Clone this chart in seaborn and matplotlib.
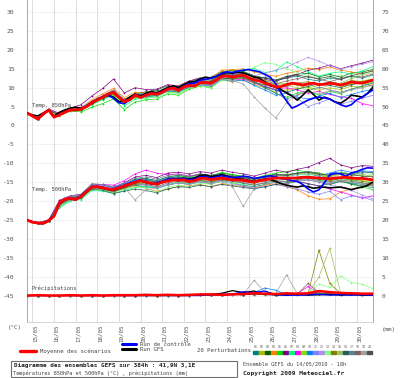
import numpy as np
import pandas as pd
import matplotlib
matplotlib.use("Agg")
import matplotlib.pyplot as plt
import matplotlib.patches as mpatches
import matplotlib.transforms as mtrans
import seaborn as sns

sns.set_style("white")
plt.rcParams['font.family'] = ['DejaVu Sans Mono', 'DejaVu Sans']

# ---------------- data ----------------
DATES = ['15/05', '16/05', '17/05', '18/05', '19/05', '20/05', '21/05', '22/05',
         '23/05', '24/05', '25/05', '26/05', '27/05', '28/05', '29/05', '30/05']
LEFT_TICKS = [30, 25, 20, 15, 10, 5, 0, -5, -10, -15, -20, -25, -30, -35, -40, -45]
RIGHT_LABELS = ['75', '70', '65', '60', '55', '50', '45', '40', '35', '30', '25', '20',
                '15', '10', '5', '0']

H6 = np.arange(0, 385, 6)     # run hours, 6-hourly (main runs)
H12 = np.arange(0, 385, 12)   # run hours, 12-hourly (perturbations)

MEAN_850 = [3.3, 2.5, 1.7, 3.0, 4.1, 2.2, 2.8, 3.5, 4.1, 4.1, 4.3, 5.0, 6.0, 6.8, 7.5, 8.3,
            8.8, 7.5, 6.3, 6.8, 8.0, 7.4, 8.0, 8.5, 8.3, 8.8, 9.6, 9.9, 9.3, 10.2, 10.6, 10.4,
            11.3, 11.4, 11.2, 12.0, 13.0, 13.1, 12.8, 13.1, 13.3, 12.6, 12.0, 11.8, 11.2, 10.8,
            10.2, 10.3, 10.8, 11.2, 11.0, 10.7, 11.0, 11.2, 10.8, 10.9, 11.2, 11.0, 10.7, 11.0,
            11.5, 11.3, 11.2, 11.6, 12.0]
CTRL_850 = [3.3, 2.5, 1.8, 3.0, 4.0, 2.3, 2.9, 3.6, 4.1, 4.2, 4.4, 5.2, 6.2, 7.0, 7.6, 8.0,
            7.2, 6.0, 5.8, 6.8, 7.9, 7.5, 8.2, 8.6, 8.4, 9.0, 9.8, 10.0, 9.5, 10.4, 11.0, 11.2,
            12.0, 12.2, 12.5, 13.0, 13.8, 14.2, 14.0, 14.4, 14.6, 14.8, 14.5, 14.2, 13.5, 12.8,
            11.0, 8.6, 6.5, 4.6, 5.2, 6.0, 6.7, 7.2, 7.5, 7.3, 7.0, 6.2, 5.5, 5.0, 5.5, 6.8,
            7.5, 8.5, 9.4]
GFS_850 = [3.3, 2.8, 2.5, 3.3, 4.1, 2.5, 3.5, 4.1, 4.6, 4.8, 4.6, 5.0, 6.0, 6.8, 7.5, 8.0,
           7.5, 6.3, 6.5, 7.5, 8.3, 7.8, 8.5, 9.0, 8.6, 9.3, 10.0, 10.5, 10.0, 10.8, 11.5, 11.6,
           12.3, 12.8, 12.5, 13.0, 13.6, 14.0, 13.8, 14.1, 13.9, 13.4, 12.8, 12.5, 11.5, 10.5,
           10.2, 9.5, 8.6, 7.8, 6.7, 8.0, 9.4, 8.2, 6.7, 7.5, 7.0, 6.2, 5.9, 6.8, 8.0, 7.8,
           7.5, 8.5, 10.2]

MEAN_500 = [-25.0, -25.6, -25.8, -25.9, -25.2, -24.0, -20.5, -19.5, -19.3, -19.6, -18.8,
            -17.5, -16.3, -16.2, -16.5, -16.8, -17.0, -16.5, -16.0, -15.5, -15.0, -14.6,
            -15.0, -15.3, -15.5, -15.0, -14.7, -14.4, -14.5, -14.4, -14.8, -14.6, -14.0,
            -14.0, -14.3, -14.1, -13.9, -14.2, -14.4, -14.4, -14.5, -14.8, -15.0, -14.6,
            -14.4, -14.1, -13.9, -13.9, -14.0, -13.9, -13.9, -13.7, -13.7, -13.8, -13.9,
            -14.0, -14.1, -13.9, -13.8, -13.7, -13.9, -14.0, -14.0, -14.2, -14.4]
CTRL_500 = [-25.0, -25.5, -25.7, -25.8, -25.0, -23.8, -20.5, -19.4, -19.2, -19.4, -18.6,
            -17.3, -16.2, -16.1, -16.4, -16.8, -16.9, -16.3, -15.8, -15.2, -14.8,
            -14.4, -14.9, -15.4, -15.2, -14.8, -14.3, -14.0, -14.3, -14.0, -14.4,
            -14.2, -13.6, -13.5, -13.9, -13.6, -13.3, -13.6, -13.8, -13.7, -13.4,
            -13.6, -14.0, -13.8, -13.5, -13.3, -13.6, -14.0, -14.2, -14.6, -14.8,
            -15.6, -16.8, -17.6, -17.0, -15.2, -13.0, -12.6, -12.8, -13.4, -12.6, -12.2,
            -11.6, -11.2, -11.3]
GFS_500 = [-25.0, -25.6, -25.9, -26.0, -25.3, -24.0, -20.8, -19.6, -19.4, -19.7, -18.9,
           -17.6, -16.4, -16.3, -16.6, -17.0, -17.2, -16.7, -16.2, -15.6, -15.1,
           -14.7, -15.1, -15.5, -15.6, -15.0, -14.5, -14.2, -14.2, -13.9, -14.2,
           -13.9, -13.2, -13.1, -13.5, -13.3, -13.0, -13.4, -13.8, -14.0, -14.3,
           -14.5, -14.8, -14.5, -14.2, -14.3, -14.8, -15.4, -15.8, -16.1, -16.3,
           -16.0, -16.2, -16.6, -16.4, -16.3, -16.5, -16.4, -16.3, -16.6, -17.0, -16.6,
           -16.3, -15.8, -15.0]

PERT_850 = [
    [3.3, 1.7, 4.2, 2.9, 4.0, 4.6, 6.4, 7.9, 9.4, 6.9, 8.3, 8.6, 8.9, 10.1, 9.8, 11.2, 12.0, 11.4, 13.5, 13.9, 14.0, 12.6, 12.8, 11.9, 12.5, 13.1, 12.2, 11.8, 12.6, 12.2, 13.0, 12.5, 13.4],
    [3.4, 1.6, 4.0, 2.7, 4.2, 4.0, 5.6, 7.0, 8.1, 5.8, 7.4, 7.6, 7.8, 9.0, 8.6, 10.0, 10.5, 10.2, 12.0, 11.6, 12.1, 10.8, 9.9, 8.8, 9.5, 9.8, 10.1, 9.3, 10.0, 9.5, 10.4, 10.0, 10.9],
    [3.2, 1.8, 4.1, 2.8, 4.0, 4.4, 6.2, 7.8, 9.2, 6.6, 8.5, 8.9, 9.4, 10.5, 10.2, 11.6, 12.4, 12.8, 14.2, 14.6, 14.3, 13.2, 12.5, 12.0, 13.0, 13.6, 13.8, 12.9, 13.5, 12.8, 13.9, 14.2, 14.8],
    [3.3, 1.7, 4.1, 2.9, 4.3, 4.7, 6.8, 8.4, 9.8, 7.4, 8.8, 8.5, 8.6, 9.8, 9.5, 11.0, 11.8, 12.5, 14.6, 14.8, 15.0, 14.2, 13.6, 13.0, 13.8, 14.3, 15.2, 14.8, 15.5, 14.6, 14.2, 13.5, 14.6],
    [3.3, 1.6, 3.9, 2.6, 3.8, 3.6, 4.8, 5.8, 7.0, 4.2, 6.2, 6.8, 7.0, 8.4, 8.0, 9.6, 10.4, 10.0, 12.2, 12.6, 12.5, 11.5, 10.0, 8.5, 7.5, 8.6, 9.2, 8.0, 9.0, 8.4, 9.6, 10.5, 11.5],
    [3.4, 1.9, 4.4, 3.2, 4.6, 5.5, 7.8, 9.8, 12.3, 8.6, 10.0, 9.5, 9.6, 10.8, 10.5, 11.8, 12.6, 12.0, 13.8, 13.2, 13.6, 12.8, 12.2, 11.6, 12.8, 13.5, 14.6, 15.2, 16.0, 15.0, 15.8, 16.5, 17.3],
    [3.2, 1.6, 4.0, 2.7, 3.9, 4.0, 5.5, 6.8, 7.9, 5.2, 7.0, 7.2, 7.6, 9.0, 8.8, 10.2, 11.0, 11.6, 13.6, 14.2, 14.8, 15.1, 14.0, 14.5, 16.8, 15.6, 14.2, 13.1, 13.8, 14.2, 13.6, 14.4, 15.6],
    [3.3, 1.8, 4.2, 2.8, 4.1, 4.5, 6.3, 7.7, 9.0, 6.5, 8.2, 8.1, 8.3, 9.5, 9.2, 10.4, 11.0, 10.6, 12.4, 12.0, 12.3, 11.2, 10.3, 9.6, 10.0, 9.4, 8.6, 9.0, 8.2, 7.6, 7.2, 5.8, 5.2],
    [3.3, 1.7, 4.0, 2.8, 4.1, 4.2, 5.8, 7.2, 8.4, 5.9, 7.6, 7.9, 8.4, 9.9, 9.7, 11.0, 12.1, 12.0, 13.4, 13.0, 13.8, 12.4, 11.6, 10.8, 11.2, 10.6, 10.0, 10.6, 11.4, 10.2, 11.0, 11.8, 12.3],
    [3.3, 1.7, 4.1, 2.8, 4.0, 4.3, 5.9, 7.3, 8.6, 6.1, 7.8, 7.6, 7.9, 9.2, 8.9, 10.1, 10.8, 10.4, 12.2, 11.7, 12.0, 10.6, 9.4, 8.0, 8.6, 7.5, 7.0, 7.8, 8.5, 7.4, 8.2, 9.0, 9.6],
    [3.3, 1.7, 4.1, 2.8, 4.1, 4.4, 6.1, 7.6, 8.9, 6.4, 8.1, 8.2, 8.5, 9.8, 9.6, 10.9, 11.6, 11.4, 13.0, 12.9, 13.1, 11.6, 10.6, 9.2, 9.0, 7.2, 5.0, 6.0, 7.0, 5.6, 6.4, 7.2, 8.0],
    [3.3, 1.8, 4.2, 2.9, 4.2, 4.6, 6.3, 7.9, 9.3, 6.8, 8.4, 8.3, 8.6, 9.9, 9.6, 11.1, 11.9, 11.6, 13.4, 13.6, 14.0, 13.2, 13.8, 14.6, 15.4, 16.8, 18.0, 17.0, 15.8, 14.9, 15.6, 16.2, 16.9],
    [3.3, 1.7, 4.1, 2.8, 4.1, 4.3, 6.0, 7.4, 8.6, 6.0, 7.6, 7.4, 7.5, 8.8, 8.4, 9.8, 10.5, 10.0, 12.0, 12.2, 13.0, 15.4, 16.6, 16.2, 15.0, 14.0, 13.2, 12.4, 12.8, 13.4, 12.6, 13.6, 14.4],
    [3.3, 1.6, 4.0, 2.7, 4.0, 4.1, 5.7, 7.1, 8.3, 5.9, 7.7, 7.8, 8.1, 9.4, 9.1, 10.4, 11.2, 11.0, 12.6, 12.2, 12.6, 11.3, 10.8, 10.0, 10.4, 11.2, 11.6, 10.9, 11.6, 11.0, 11.9, 11.6, 12.2],
    [3.3, 1.7, 4.1, 2.8, 4.1, 4.3, 6.1, 7.6, 8.9, 6.2, 8.0, 8.1, 8.3, 9.7, 9.4, 10.7, 11.4, 11.3, 13.1, 13.0, 13.6, 12.8, 12.0, 11.4, 10.6, 10.0, 9.4, 9.8, 10.6, 11.2, 12.4, 13.2, 14.0],
    [3.3, 1.7, 4.1, 2.8, 4.1, 4.2, 5.9, 7.4, 8.7, 6.2, 7.9, 7.8, 8.0, 9.3, 9.0, 10.2, 10.9, 10.8, 12.5, 12.4, 12.8, 11.6, 10.2, 9.4, 8.8, 9.6, 10.4, 11.0, 10.6, 10.0, 10.8, 11.3, 10.4],
    [3.3, 1.7, 4.1, 2.8, 4.1, 4.4, 6.2, 7.7, 9.0, 6.5, 8.2, 8.3, 8.6, 9.9, 9.7, 11.0, 11.8, 11.8, 13.6, 13.4, 13.0, 11.6, 10.0, 8.6, 7.0, 8.0, 9.2, 10.2, 9.4, 8.8, 9.6, 10.4, 11.2],
    [3.3, 1.7, 4.1, 2.8, 4.1, 4.3, 6.0, 7.5, 8.8, 6.3, 8.0, 8.0, 8.2, 9.5, 9.1, 10.5, 11.2, 11.1, 12.9, 12.6, 13.2, 12.4, 11.8, 11.0, 11.8, 12.4, 13.0, 12.2, 11.6, 12.4, 13.2, 12.8, 13.6],
    [3.3, 1.7, 4.1, 2.8, 4.1, 4.3, 6.0, 7.5, 8.7, 6.2, 8.0, 7.9, 8.1, 9.4, 9.0, 10.3, 11.0, 10.6, 12.4, 11.8, 11.0, 7.6, 4.6, 2.0, 6.0, 8.2, 9.0, 8.4, 9.2, 8.6, 9.4, 10.0, 10.6],
    [3.3, 1.7, 4.1, 2.8, 4.1, 4.3, 6.0, 7.4, 8.6, 6.2, 8.0, 8.1, 8.4, 9.8, 9.5, 10.9, 11.6, 11.7, 13.4, 13.3, 14.0, 13.0, 12.6, 12.0, 12.6, 13.4, 12.8, 12.4, 13.0, 12.2, 13.2, 13.8, 14.4],
]

PERT_500 = [
    [-25.0, -25.9, -25.4, -20.8, -19.0, -18.5, -16.0, -16.2, -17.4, -16.6, -15.8, -16.2, -16.6, -15.8, -15.2, -15.6, -14.8, -15.4, -14.6, -15.2, -15.8, -16.2, -15.6, -15.0, -15.4, -14.8, -14.4, -15.0, -15.6, -14.8, -15.2, -15.6, -16.0],
    [-25.0, -25.8, -25.1, -21.0, -19.6, -19.2, -16.8, -16.9, -17.2, -16.2, -14.6, -14.4, -15.0, -14.2, -13.8, -14.0, -13.4, -13.8, -13.2, -13.6, -14.0, -14.4, -13.6, -12.8, -13.2, -12.6, -12.4, -13.0, -13.4, -12.8, -13.0, -13.4, -13.6],
    [-25.0, -25.7, -25.2, -20.2, -19.2, -18.8, -16.2, -16.4, -16.8, -15.8, -14.2, -14.0, -14.6, -13.6, -13.2, -13.6, -12.8, -13.2, -12.6, -13.0, -13.6, -14.2, -13.8, -13.2, -13.0, -12.6, -12.2, -12.6, -13.2, -12.4, -12.8, -12.2, -12.6],
    [-25.0, -25.9, -25.3, -21.2, -19.6, -19.0, -16.6, -16.8, -17.6, -16.8, -16.0, -16.6, -17.4, -16.8, -16.2, -16.0, -15.6, -16.2, -15.4, -15.8, -16.2, -16.6, -15.8, -15.4, -16.2, -17.0, -18.6, -19.5, -19.4, -17.6, -16.8, -16.2, -15.8],
    [-25.0, -25.8, -25.2, -21.6, -19.8, -19.0, -16.4, -16.6, -17.2, -16.4, -15.2, -14.6, -15.2, -14.0, -13.4, -13.8, -13.0, -13.4, -12.4, -13.0, -13.4, -14.0, -13.2, -12.6, -12.2, -11.8, -12.4, -13.2, -13.8, -14.6, -15.6, -16.2, -17.0],
    [-25.0, -25.7, -25.0, -19.8, -18.6, -18.2, -15.6, -15.8, -16.4, -15.2, -13.6, -13.2, -13.8, -12.6, -12.4, -12.8, -12.2, -12.6, -11.8, -12.4, -12.8, -13.4, -12.6, -11.8, -12.4, -11.6, -11.0, -9.8, -8.7, -10.4, -11.2, -10.6, -10.8],
    [-25.0, -25.9, -25.3, -21.8, -20.0, -19.6, -17.2, -17.4, -18.0, -17.2, -16.4, -16.0, -16.6, -15.6, -15.0, -15.4, -14.6, -15.0, -14.2, -14.8, -15.4, -15.8, -15.2, -14.6, -14.8, -14.2, -13.8, -14.4, -14.8, -14.0, -14.6, -15.2, -15.6],
    [-25.0, -25.7, -25.1, -20.4, -19.0, -18.4, -15.8, -15.6, -15.8, -14.6, -12.8, -11.8, -12.6, -13.0, -12.8, -13.4, -13.0, -13.6, -13.2, -13.8, -14.4, -14.8, -14.0, -13.6, -14.2, -14.8, -15.4, -16.0, -16.8, -17.6, -18.4, -19.2, -18.6],
    [-25.0, -25.8, -25.2, -21.0, -19.4, -18.9, -16.4, -16.6, -17.2, -16.2, -15.4, -15.0, -15.4, -14.4, -14.0, -14.2, -13.6, -14.0, -13.4, -13.8, -14.4, -15.0, -14.4, -13.8, -14.2, -13.6, -13.4, -14.0, -14.4, -13.8, -14.2, -14.6, -15.0],
    [-25.0, -25.8, -25.2, -20.6, -19.2, -18.6, -15.8, -16.0, -16.6, -15.4, -14.4, -14.2, -14.8, -13.8, -13.6, -14.0, -13.4, -13.8, -13.2, -13.8, -14.2, -14.6, -14.0, -13.2, -13.4, -13.0, -12.8, -13.4, -12.6, -11.8, -12.4, -12.0, -12.2],
    [-25.0, -25.8, -25.3, -21.2, -19.4, -18.8, -16.2, -16.6, -17.4, -16.6, -15.6, -15.8, -16.4, -15.6, -15.2, -15.6, -15.0, -15.4, -14.8, -15.4, -16.0, -16.6, -16.2, -15.6, -16.2, -16.8, -17.6, -18.2, -17.4, -19.6, -18.6, -19.0, -19.8],
    [-25.0, -25.7, -25.1, -20.4, -18.8, -18.4, -15.6, -16.0, -16.8, -15.6, -14.8, -14.6, -15.2, -14.4, -14.2, -14.6, -14.0, -14.6, -14.0, -14.6, -15.0, -15.6, -15.0, -14.4, -15.0, -14.6, -14.2, -15.0, -15.6, -16.4, -17.2, -18.4, -19.4],
    [-25.0, -25.8, -25.2, -21.4, -19.8, -19.2, -16.8, -17.0, -17.8, -16.8, -16.2, -16.6, -17.6, -16.4, -15.8, -16.2, -15.2, -15.6, -14.8, -15.2, -15.6, -15.4, -14.6, -13.8, -13.6, -12.8, -13.2, -12.6, -13.0, -12.4, -12.8, -13.2, -13.0],
    [-25.0, -25.9, -25.3, -20.8, -19.4, -19.0, -16.6, -16.8, -17.6, -16.6, -15.6, -15.2, -15.8, -14.8, -14.6, -15.0, -14.4, -14.8, -14.2, -14.6, -14.8, -15.2, -14.6, -14.0, -14.4, -13.8, -13.6, -14.2, -14.6, -14.0, -14.4, -14.8, -15.2],
    [-25.0, -25.8, -25.2, -20.6, -19.0, -18.6, -16.2, -16.4, -17.0, -16.0, -15.0, -14.8, -15.4, -14.6, -14.2, -14.6, -14.0, -14.2, -13.6, -14.0, -14.2, -14.6, -13.8, -13.2, -13.4, -12.8, -12.6, -13.2, -13.6, -13.0, -13.4, -13.0, -13.4],
    [-25.0, -25.9, -25.3, -21.0, -19.6, -19.2, -16.8, -17.2, -18.0, -17.4, -16.8, -17.2, -17.8, -16.8, -16.2, -16.4, -15.8, -16.2, -15.6, -16.0, -16.4, -16.8, -16.2, -15.6, -15.2, -14.8, -15.4, -16.0, -15.4, -14.8, -15.4, -16.0, -16.4],
    [-25.0, -25.8, -25.2, -20.2, -18.8, -18.2, -15.4, -15.6, -16.2, -15.2, -14.0, -13.6, -14.2, -13.2, -13.0, -13.4, -12.8, -13.2, -12.8, -13.4, -13.8, -14.2, -13.6, -12.8, -13.2, -12.6, -12.2, -12.8, -13.2, -12.6, -13.0, -12.6, -12.4],
    [-25.0, -25.8, -25.2, -21.0, -19.4, -18.8, -16.4, -16.6, -17.2, -16.2, -15.4, -15.6, -16.2, -15.2, -14.8, -15.2, -14.6, -15.0, -14.4, -14.8, -15.2, -15.8, -15.2, -14.6, -15.0, -14.4, -14.0, -14.6, -15.0, -14.4, -14.8, -15.2, -15.6],
    [-25.0, -25.8, -25.3, -21.2, -19.6, -19.0, -16.6, -16.8, -17.4, -16.4, -19.7, -17.0, -16.6, -15.8, -15.2, -15.6, -14.8, -15.4, -14.8, -16.2, -21.4, -16.8, -15.6, -15.0, -15.4, -14.8, -14.4, -14.8, -15.2, -14.6, -15.0, -15.4, -15.8],
    [-25.0, -25.8, -25.2, -20.6, -19.2, -18.6, -16.0, -16.4, -17.0, -16.0, -14.8, -14.4, -15.0, -14.0, -13.8, -14.2, -13.4, -13.8, -13.0, -13.4, -13.8, -14.2, -13.6, -13.0, -13.2, -12.6, -12.4, -12.8, -13.2, -12.6, -13.0, -13.4, -13.6],
]

# precipitation (mm), 12-hourly
PRECIP_MEAN = [0.0, 0.1, 0.0, 0.0, 0.1, 0.0, 0.1, 0.0, 0.1, 0.1, 0.1, 0.2, 0.1, 0.2, 0.1, 0.2, 0.3,
               0.3, 0.2, 0.3, 0.4, 0.6, 0.5, 0.4, 0.6, 0.5, 0.6, 1.2, 0.9, 0.7, 0.6, 0.5, 0.5]
PRECIP_CTRL = [0, 0, 0, 0, 0, 0, 0, 0, 0, 0, 0, 0, 0, 0, 0, 0, 0, 0.2, 0.3, 0.4, 1.0, 0.8, 1.2,
               0.2, 0.1, 0.1, 0.2, 0.3, 0.1, 0.2, 0.1, 0.2, 0.1]
PRECIP_GFS = [0, 0, 0, 0, 0, 0, 0, 0, 0, 0, 0, 0, 0, 0, 0, 0, 0.2, 0.3, 0.6, 1.3, 0.8, 1.2, 0.3,
              0.2, 0.1, 0.2, 0.1, 0.2, 0.3, 0.1, 0.2, 0.1, 0.1]
PRECIP_LIGHT = [0, 0, 0, 0, 0.1, 0, 0, 0, 0.1, 0, 0, 0.2, 0, 0.1, 0, 0.2, 0.3, 0.2, 0.1, 0.3,
                0.2, 0.4, 0.3, 0.2, 0.4, 0.3, 0.4, 0.5, 0.4, 0.3, 0.4, 0.3, 0.3]
PRECIP_WET = {
    8: [0, 0, 0, 0, 0, 0, 0, 0, 0, 0, 0, 0, 0, 0, 0, 0, 0.1, 0.2, 0.1, 0.3, 0.2, 0.3, 0.2, 0.2,
        0.3, 0.5, 2.4, 0.6, 0.4, 0.3, 0.3, 0.2, 0.2],
    10: [0, 0, 0, 0, 0, 0, 0, 0, 0, 0, 0, 0, 0, 0, 0, 0, 0.1, 0.2, 0.3, 0.4, 0.5, 0.8, 2.0, 1.4,
         0.3, 0.2, 0.3, 0.4, 0.3, 0.2, 0.3, 0.2, 0.2],
    13: [0, 0, 0, 0, 0, 0, 0, 0, 0, 0, 0, 0, 0, 0, 0, 0, 0.1, 0.1, 0.2, 0.2, 0.3, 0.3, 0.2, 0.3,
         0.4, 0.3, 0.5, 3.0, 2.2, 5.2, 3.4, 3.0, 1.8],
    14: [0, 0, 0, 0, 0, 0, 0, 0, 0, 0, 0, 0, 0, 0, 0, 0, 0.1, 0.1, 0.2, 0.3, 0.2, 0.3, 0.4, 0.3,
         0.3, 0.4, 0.6, 12.0, 3.2, 0.6, 0.4, 0.3, 0.3],
    15: [0, 0, 0, 0, 0, 0, 0, 0, 0, 0, 0, 0, 0, 0, 0, 0, 0.1, 0.2, 0.2, 0.2, 0.3, 0.3, 0.2, 0.3,
         0.4, 0.3, 0.5, 5.0, 12.5, 0.8, 0.4, 0.3, 0.3],
    18: [0, 0, 0, 0, 0, 0, 0, 0, 0, 0, 0, 0, 0, 0, 0, 0, 0.1, 0.1, 0.2, 0.2, 0.3, 0.2, 0.3, 0.4,
         0.3, 0.4, 3.2, 0.8, 0.4, 0.3, 0.3, 0.2, 0.2],
    19: [0, 0, 0, 0, 0, 0, 0, 0, 0, 0, 0, 0, 0, 0, 0, 0, 0.1, 0.2, 0.3, 0.2, 0.3, 4.0, 1.0, 0.5,
         5.5, 0.5, 0.4, 0.3, 0.3, 0.2, 0.3, 0.2, 0.2],
}
PRECIP_ZERO = -45   # precipitation 0 mm sits at -45 on the temperature axis

PERT_COLORS = ['#008080', '#b8b800', '#006400', '#ff8000', '#00e000', '#800080', '#00ff80',
               '#ff00ff', '#80e000', '#0080ff', '#8080ff', '#b090f0', '#80ff80', '#808000',
               '#a0c060', '#205f5f', '#608090', '#806060', '#a0a0a0', '#505050']
PERT_IDS = ['01', '02', '03', '04', '05', '06', '07', '08', '09', '10', '11', '12', '13', '14',
            '15', '16', '17', '18', '19', '20']

# ---------------- figure ----------------
W, H = 400, 378
fig = plt.figure(figsize=(W / 100, H / 100), dpi=100)
fig.patch.set_facecolor('white')
ax = fig.add_axes([27 / W, 1 - 322 / H, 346 / W, 322 / H])
ax.set_facecolor('white')
ax.set_xlim(0, 384)
ax.set_ylim(-52.0, 33.2)

# grid
day_hours = [6 + 24 * d for d in range(len(DATES))]
for h in day_hours:
    ax.axvline(h, color='#dcdcdc', lw=0.7, zorder=0)
for v in LEFT_TICKS:
    ax.axhline(v, color='#e2e2e2', lw=0.6, ls=(0, (1.5, 1.5)), zorder=0)

for sp in ['top']:
    ax.spines[sp].set_visible(False)
for sp in ['left', 'right']:
    ax.spines[sp].set_color('#a8a8a8')
    ax.spines[sp].set_linewidth(0.7)
ax.spines['bottom'].set_color('#d0d0d0')
ax.spines['bottom'].set_linewidth(0.6)

ax.set_yticks(LEFT_TICKS)
ax.set_yticklabels([str(v) for v in LEFT_TICKS], fontsize=4.6, color='#555555')
ax.tick_params(axis='y', length=0, pad=9)
ax.set_xticks([])
ax2 = ax.twinx()
ax2.set_ylim(ax.get_ylim())
ax2.set_yticks(LEFT_TICKS)
ax2.set_yticklabels(RIGHT_LABELS, fontsize=4.6, color='#555555')
ax2.tick_params(axis='y', length=0, pad=6)
for sp in ax2.spines.values():
    sp.set_visible(False)

# perturbations
for i in range(20):
    kw = dict(color=PERT_COLORS[i], lw=0.5, marker='o', markersize=1.3,
              markeredgewidth=0, ax=ax, zorder=2, legend=False)
    sns.lineplot(x=H12, y=PERT_850[i], **kw)
    sns.lineplot(x=H12, y=PERT_500[i], **kw)
    pr = PRECIP_WET.get(i + 1, PRECIP_LIGHT)
    sns.lineplot(x=H12, y=np.array(pr) + PRECIP_ZERO, **kw)

# main runs
for series, col, z in [((GFS_850, GFS_500, PRECIP_GFS), 'black', 4),
                       ((CTRL_850, CTRL_500, PRECIP_CTRL), '#0000ff', 5)]:
    sns.lineplot(x=H6, y=series[0], color=col, lw=1.2, ax=ax, zorder=z)
    sns.lineplot(x=H6, y=series[1], color=col, lw=1.2, ax=ax, zorder=z)
    sns.lineplot(x=H12, y=np.array(series[2]) + PRECIP_ZERO, color=col, lw=0.9, ax=ax, zorder=z)

sns.lineplot(x=H6, y=MEAN_850, color='#ff0000', lw=2.0, ax=ax, zorder=6)
sns.lineplot(x=H6, y=MEAN_500, color='#ff0000', lw=2.0, ax=ax, zorder=6)
sns.lineplot(x=H12, y=np.array(PRECIP_MEAN) + PRECIP_ZERO, color='#ff0000', lw=1.8, ax=ax, zorder=6)

# in-plot labels
lab = dict(fontsize=3.9, color='#444444', zorder=7)
ax.text(5.5, 4.9, 'Temp. 850hPa', **lab)
ax.text(5.5, -17.4, 'Temp. 500hPa', **lab)
ax.text(5.5, -43.5, 'Précipitations', **lab)

# date labels under the axis
trans = mtrans.blended_transform_factory(ax.transData, fig.transFigure)
for h, d in zip(day_hours, DATES):
    ax.text(h + 3, 1 - 324 / H, d, rotation=90, ha='center', va='top',
            fontsize=4.2, color='#555555', transform=trans)


def fx(x):
    return x / W


def fy(y):
    return 1 - y / H


fig.text(fx(8), fy(328), '(°C)', fontsize=4.2, color='#555555', va='center')
fig.text(fx(382), fy(329), '(mm)', fontsize=4.2, color='#555555', va='center')

# legend
fig.add_artist(plt.Line2D([fx(20), fx(36)], [fy(351), fy(351)], color='#ff0000', lw=2.4,
                          transform=fig.transFigure))
fig.text(fx(40), fy(351), 'Moyenne des scénarios', fontsize=4.1, color='#444444', va='center')
fig.add_artist(plt.Line2D([fx(122), fx(136)], [fy(344), fy(344)], color='#0000ff', lw=2.2,
                          transform=fig.transFigure))
fig.add_artist(plt.Line2D([fx(122), fx(136)], [fy(349), fy(349)], color='black', lw=2.2,
                          transform=fig.transFigure))
fig.text(fx(140), fy(344), 'Run de contrôle', fontsize=4.1, color='#444444', va='center')
fig.text(fx(140), fy(349.5), 'Run GFS', fontsize=4.1, color='#444444', va='center')
fig.text(fx(197), fy(351), '20 Perturbations', fontsize=4.1, color='#444444', va='center')
for i, (pid, col) in enumerate(zip(PERT_IDS, PERT_COLORS)):
    x0 = 253 + i * 6
    fig.text(fx(x0 + 2.5), fy(347), pid, fontsize=2.3, color='#555555', ha='center', va='center')
    fig.add_artist(mpatches.Rectangle((fx(x0), fy(354)), 5 / W, 3 / H, color=col,
                                      transform=fig.transFigure))

# title box
fig.add_artist(mpatches.Rectangle((fx(11), fy(377)), 226 / W, 16 / H, fill=False,
                                  ec='#707070', lw=0.8, transform=fig.transFigure))
fig.text(fx(14), fy(365.5), 'Diagramme des ensembles GEFS sur 384h : 41,9N 3,1E',
         fontsize=4.3, fontweight='bold', color='#222222', va='center')
fig.text(fx(13), fy(373.5), 'Températures 850hPa et 500hPa (°C) , précipitations (mm)',
         fontsize=3.8, color='#444444', va='center')
fig.text(fx(243), fy(363.5), 'Ensemble GEFS du 14/05/2010 - 18h', fontsize=3.8,
         color='#444444', va='center')
fig.text(fx(243), fy(373.5), 'Copyright 2009 Meteociel.fr', fontsize=4.5,
         fontweight='bold', color='#222222', va='center')

fig.savefig('out.png', dpi=100, facecolor='white')
